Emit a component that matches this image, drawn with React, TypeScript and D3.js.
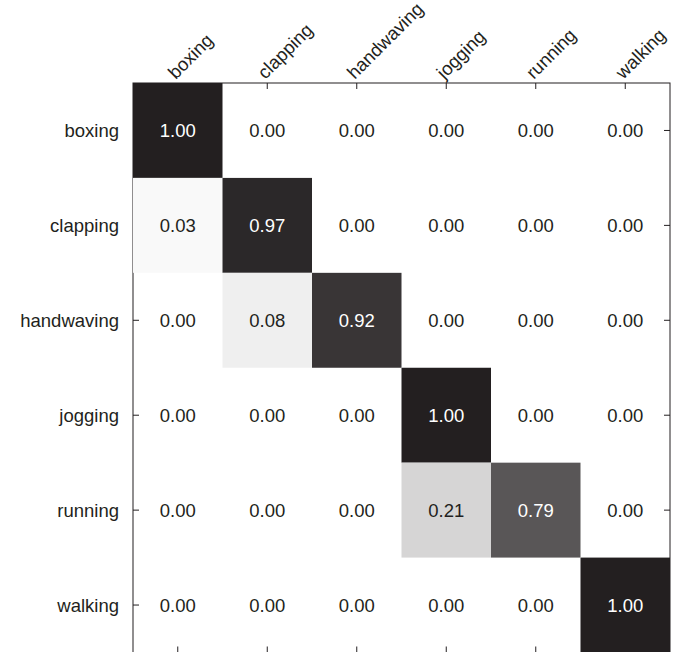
import React from "react";
import * as d3 from "d3";

const categories = ["boxing", "clapping", "handwaving", "jogging", "running", "walking"];
const rowBoxing = [1.0, 0.0, 0.0, 0.0, 0.0, 0.0];
const rowClapping = [0.03, 0.97, 0.0, 0.0, 0.0, 0.0];
const rowHandwaving = [0.0, 0.08, 0.92, 0.0, 0.0, 0.0];
const rowJogging = [0.0, 0.0, 0.0, 1.0, 0.0, 0.0];
const rowRunning = [0.0, 0.0, 0.0, 0.21, 0.79, 0.0];
const rowWalking = [0.0, 0.0, 0.0, 0.0, 0.0, 1.0];
const matrix = [rowBoxing, rowClapping, rowHandwaving, rowJogging, rowRunning, rowWalking];

const W = 678;
const H = 652;
const left = 133;
const right = 670;
const top = 83;
const bottom = 652.5;
const INK = "#231f20";
const FONT = "'Liberation Sans', Arial, Helvetica, sans-serif";

export default function App() {
  const x = d3.scaleBand<string>().domain(categories).range([left, right]);
  const y = d3.scaleBand<string>().domain(categories).range([top, bottom]);
  const color = d3
    .scaleLinear<string>()
    .domain([0, 1])
    .range(["#ffffff", INK])
    .interpolate(d3.interpolateRgb.gamma(1.2));
  const bw = x.bandwidth();
  const bh = y.bandwidth();
  const tick = 6;

  const cells: { r: string; c: string; v: number }[] = [];
  matrix.forEach((row, i) => row.forEach((v, j) => cells.push({ r: categories[i], c: categories[j], v })));

  return (
    <svg width={W} height={H} style={{ position: "absolute", left: 0, top: 0 }} fontFamily={FONT}>
      <rect x={0} y={0} width={W} height={H} fill="#ffffff" />
      {/* frame */}
      <rect x={left} y={top} width={right - left} height={bottom - top} fill="none" stroke={INK} strokeWidth={1} />
      {/* ticks */}
      {categories.map((c) => {
        const cx = (x(c) as number) + bw / 2;
        const cy = (y(c) as number) + bh / 2;
        return (
          <g key={"t" + c} stroke={INK} strokeWidth={1}>
            <line x1={cx} x2={cx} y1={top} y2={top + tick} />
            <line x1={cx} x2={cx} y1={bottom} y2={bottom - tick} />
            <line x1={left} x2={left + tick} y1={cy} y2={cy} />
            <line x1={right} x2={right - tick} y1={cy} y2={cy} />
          </g>
        );
      })}
      {/* cells */}
      {cells.map((d, k) =>
        d.v > 0 ? (
          <rect key={"c" + k} x={x(d.c)} y={y(d.r)} width={bw} height={bh} fill={color(d.v)} />
        ) : null
      )}
      {cells.map((d, k) => (
        <text
          key={"v" + k}
          x={(x(d.c) as number) + bw / 2}
          y={(y(d.r) as number) + bh / 2}
          dy="0.36em"
          textAnchor="middle"
          fontSize={18.5}
          fill={d.v >= 0.5 ? "#ffffff" : INK}
        >
          {d3.format(".2f")(d.v)}
        </text>
      ))}
      {/* row labels */}
      {categories.map((c) => (
        <text
          key={"r" + c}
          x={left - 14}
          y={(y(c) as number) + bh / 2}
          dy="0.36em"
          textAnchor="end"
          fontSize={18.5}
          fill={INK}
        >
          {c}
        </text>
      ))}
      {/* column labels */}
      {categories.map((c) => {
        const cx = (x(c) as number) + bw / 2 - 2;
        const cy = top - 3;
        return (
          <text
            key={"col" + c}
            transform={`translate(${cx},${cy}) rotate(-45)`}
            textAnchor="start"
            fontSize={18.5}
            fill={INK}
          >
            {c}
          </text>
        );
      })}
    </svg>
  );
}
